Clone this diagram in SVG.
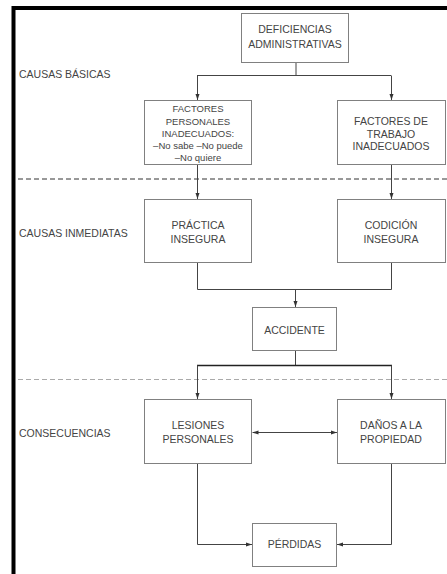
<svg xmlns="http://www.w3.org/2000/svg" width="447" height="574" viewBox="0 0 447 574">
<defs>
<marker id="ah" viewBox="0 0 6 6" refX="6" refY="3" markerWidth="6" markerHeight="6" orient="auto-start-reverse" markerUnits="userSpaceOnUse">
<path d="M0,1 L6,3 L0,5 z" fill="#333"/>
</marker>
<style>
.box{fill:#fff;stroke:#808080;stroke-width:1}
.t{font-family:"Liberation Sans",Arial,sans-serif;font-size:10.5px;fill:#444;text-anchor:middle}
.s{font-family:"Liberation Sans",Arial,sans-serif;font-size:9.5px;fill:#444;text-anchor:middle}
.lab{font-family:"Liberation Sans",Arial,sans-serif;font-size:10.5px;fill:#444}
.c{fill:none;stroke:#444;stroke-width:1}
</style>
</defs>
<rect width="447" height="574" fill="#fff"/>
<path d="M13.5,574 V8 H447" fill="none" stroke="#000" stroke-width="4"/>
<line x1="18" y1="179" x2="447" y2="179" stroke="#333" stroke-width="1" stroke-dasharray="5,3"/>
<line x1="18" y1="379.5" x2="447" y2="379.5" stroke="#aaa" stroke-width="1" stroke-dasharray="5,3"/>
<text class="lab" x="19" y="78">CAUSAS BÁSICAS</text>
<text class="lab" x="19" y="237">CAUSAS INMEDIATAS</text>
<text class="lab" x="19" y="437">CONSECUENCIAS</text>
<g id="connectors">
<path class="c" d="M296,63 V75.5"/>
<path class="c" d="M197,75.5 H391"/>
<path class="c" d="M197.5,75.5 V100" marker-end="url(#ah)"/>
<path class="c" d="M391.5,75.5 V100" marker-end="url(#ah)"/>
<path class="c" d="M197.5,165 V199" marker-end="url(#ah)"/>
<path class="c" d="M391.5,165 V199" marker-end="url(#ah)"/>
<path class="c" d="M197.5,263 V289.5 H391.5 V263"/>
<path class="c" d="M295.5,289.5 V307" marker-end="url(#ah)"/>
<path class="c" d="M295.5,351 V365.5"/>
<path d="M197,365.5 H392" stroke="#222" stroke-width="1.3" fill="none"/>
<path class="c" d="M197.5,365.5 V399" marker-end="url(#ah)"/>
<path class="c" d="M391.5,365.5 V399" marker-end="url(#ah)"/>
<path class="c" d="M252.5,432.5 H337" marker-start="url(#ah)" marker-end="url(#ah)"/>
<path class="c" d="M197.5,464 V544.5 H252" marker-end="url(#ah)"/>
<path class="c" d="M391.5,464 V544.5 H337" marker-end="url(#ah)"/>
</g>
<g id="n_deficiencias">
<rect class="box" x="241.5" y="13.5" width="107" height="49"/>
<text class="t" x="295" y="33">DEFICIENCIAS</text>
<text class="t" x="295" y="48">ADMINISTRATIVAS</text>
</g>
<g id="n_personales">
<rect class="box" x="144.5" y="100.5" width="107" height="64"/>
<text class="s" x="198" y="112">FACTORES</text>
<text class="s" x="198" y="125">PERSONALES</text>
<text class="s" x="198" y="137">INADECUADOS:</text>
<text class="s" x="198" y="149">–No sabe –No puede</text>
<text class="s" x="198" y="161">–No quiere</text>
</g>
<g id="n_trabajo">
<rect class="box" x="337.5" y="100.5" width="108" height="64"/>
<text class="t" x="391" y="125">FACTORES DE</text>
<text class="t" x="391" y="137.5">TRABAJO</text>
<text class="t" x="391" y="150">INADECUADOS</text>
</g>
<g id="n_practica">
<rect class="box" x="144.5" y="199.5" width="107" height="63"/>
<text class="t" x="198" y="229">PRÁCTICA</text>
<text class="t" x="198" y="243">INSEGURA</text>
</g>
<g id="n_condicion">
<rect class="box" x="337.5" y="199.5" width="108" height="63"/>
<text class="t" x="391" y="229">CODICIÓN</text>
<text class="t" x="391" y="243">INSEGURA</text>
</g>
<g id="n_accidente">
<rect class="box" x="252.5" y="307.5" width="84" height="43"/>
<text class="t" x="294.5" y="334">ACCIDENTE</text>
</g>
<g id="n_lesiones">
<rect class="box" x="144.5" y="399.5" width="107" height="64"/>
<text class="t" x="198" y="429">LESIONES</text>
<text class="t" x="198" y="443">PERSONALES</text>
</g>
<g id="n_danos">
<rect class="box" x="337.5" y="399.5" width="108" height="64"/>
<text class="t" x="391" y="429">DAÑOS A LA</text>
<text class="t" x="391" y="443">PROPIEDAD</text>
</g>
<g id="n_perdidas">
<rect class="box" x="252.5" y="523.5" width="84" height="43"/>
<text class="t" x="294.5" y="548">PÉRDIDAS</text>
</g>
</svg>
